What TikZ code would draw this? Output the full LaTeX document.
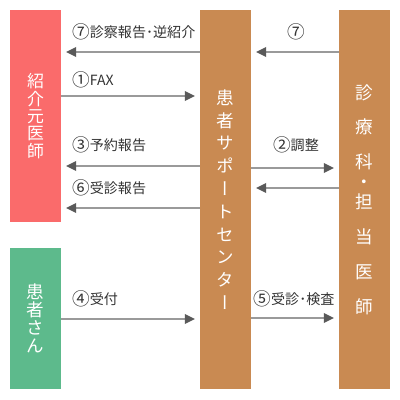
\documentclass[tikz,border=0pt]{standalone}
\usepackage{fontspec}
\setmainfont{Noto Sans CJK JP}
\newfontfamily\vjp[RawFeature=+vert]{Noto Sans CJK JP}
\usetikzlibrary{arrows.meta}

\definecolor{refred}{HTML}{FA6B6B}
\definecolor{suporange}{HTML}{C98A52}
\definecolor{ptgreen}{HTML}{5DBA8C}
\definecolor{arrline}{HTML}{9A9A9A}
\definecolor{arrhead}{HTML}{5A5A5A}
\definecolor{lbltext}{HTML}{333333}

% larger circled step numbers
\newcommand\stepno[1]{\raisebox{-0.6pt}{\fontsize{12.5}{12}\selectfont#1}}

\begin{document}
\begin{tikzpicture}[
    x=0.025cm, y=-0.025cm,
    box/.style={minimum width=1.275cm, inner sep=0pt, text=white, align=center},
    flow/.style={-{Triangle[length=0.25cm, width=0.24cm, color=arrhead]}, draw=arrline, line width=1.1pt, shorten >=0.12cm},
    lbl/.style={font=\fontsize{10}{12}\selectfont, text=lbltext, inner sep=0pt},
]
\useasboundingbox (0,0) rectangle (400,400);

% boxes
\node[box, fill=refred, minimum height=5.3cm, font=\vjp\fontsize{12}{12.3}\selectfont] (doc) at (35.5,116) {紹\\介\\元\\医\\師};
\node[box, fill=ptgreen, minimum height=3.525cm, font=\vjp\fontsize{12.5}{12.8}\selectfont] (pat) at (35.5,318.5) {患\\者\\さ\\ん};
\node[box, fill=suporange, minimum height=9.475cm, font=\vjp\fontsize{12.5}{16.2}\selectfont] (sup) at (225.5,199.5) {患\\者\\サ\\ポ\\ー\\ト\\セ\\ン\\タ\\ー};
\node[box, fill=suporange, minimum height=9.475cm, font=\vjp\fontsize{12.5}{24.8}\selectfont] (dept) at (364.5,199.5) {診\\療\\科\\[-10.6pt]・\\[-10.6pt]担\\当\\医\\師};

% arrows
\foreach \a/\b/\y in {sup.west/doc.east/52, doc.east/sup.west/96, sup.west/doc.east/166,
                      sup.west/doc.east/208, pat.east/sup.west/319,
                      dept.west/sup.east/52, sup.east/dept.west/168,
                      dept.west/sup.east/188, sup.east/dept.west/318}
    \draw[flow] (\a |- 0,\y) -- (\b |- 0,\y);

% labels
\node[lbl, anchor=west] (l7)  at (72,32)  {\stepno{⑦}診察報告･逆紹介};
\node[lbl, anchor=west] (l1)  at (72,80)  {\stepno{①}FAX};
\node[lbl, anchor=west] (l3)  at (72,145) {\stepno{③}予約報告};
\node[lbl, anchor=west] (l6)  at (72,188) {\stepno{⑥}受診報告};
\node[lbl, anchor=west] (l4)  at (72,299) {\stepno{④}受付};
\node[lbl] (r7) at (296,32)  {\stepno{⑦}};
\node[lbl] (r2) at (296,145) {\stepno{②}調整};
\node[lbl] (r5) at (294,299) {\stepno{⑤}受診･検査};

\end{tikzpicture}
\end{document}
